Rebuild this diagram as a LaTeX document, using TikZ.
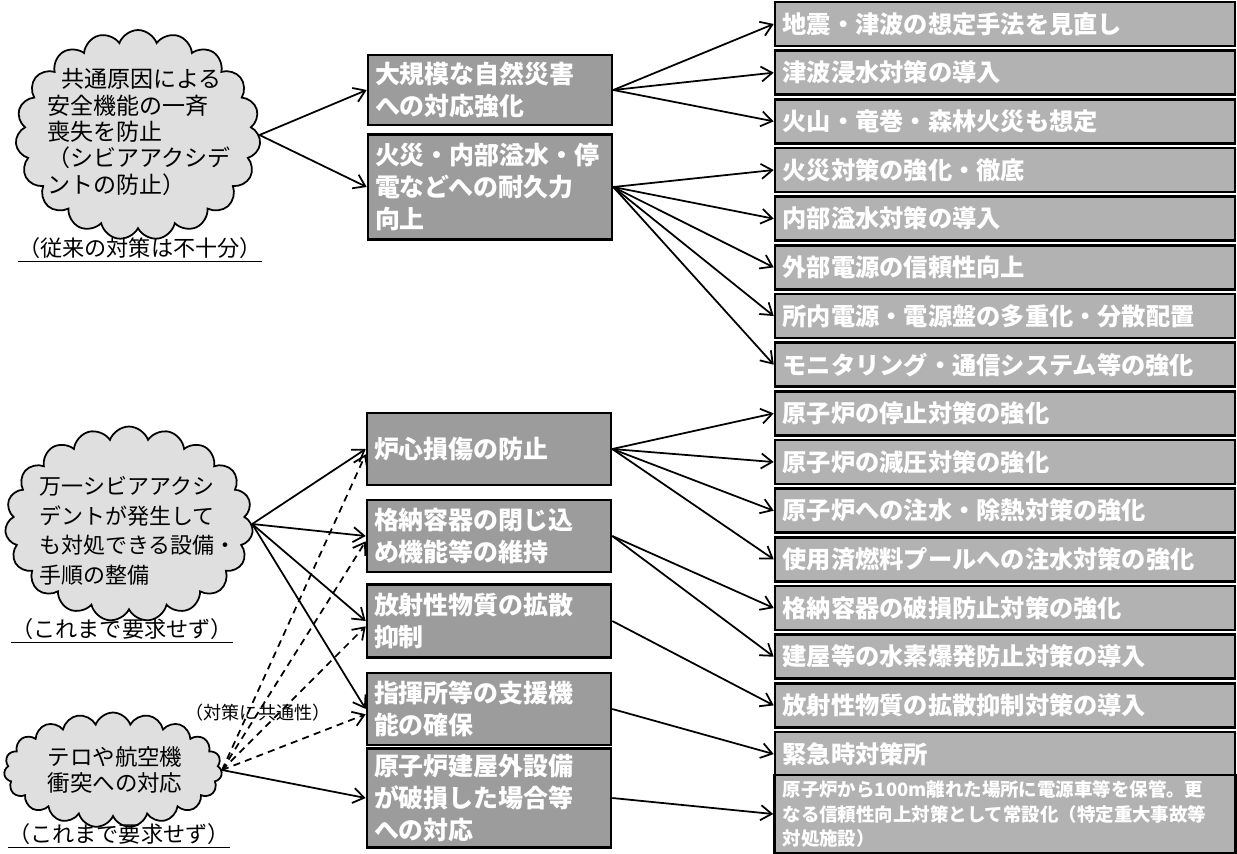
\documentclass[tikz,border=0pt]{standalone}
\usepackage{fontspec}
\setmainfont{Noto Sans CJK JP}
\usetikzlibrary{arrows.meta, shapes.symbols}

\begin{document}
\begin{tikzpicture}[
    x=0.02cm, y=-0.02cm,
    every node/.style={font=\fontsize{14}{18}\selectfont},
    cloudbox/.style={cloud, cloud puffs=19, cloud puff arc=140, cloud ignores aspect, draw, line width=1pt, fill=gray!25, inner sep=0pt},
    cloudtext/.style={align=left, inner sep=0pt},
    midbox/.style={rectangle, draw, line width=1.5pt, fill=gray!78, text=white, font=\bfseries\fontsize{14.2}{18.2}\selectfont, minimum width=4.88cm, text width=4.6cm, inner xsep=0.14cm, align=left},
    rightbox/.style={rectangle, draw, line width=1.5pt, fill=gray!60, text=white, font=\bfseries\fontsize{13.8}{16}\selectfont, minimum width=9.2cm, minimum height=0.88cm, text width=8.9cm, inner xsep=0.15cm, align=left},
    note/.style={font=\fontsize{12.6}{15}\selectfont},
    arrow/.style={-{Straight Barb[length=2.2mm, width=3mm]}, line width=1pt},
    dasharrow/.style={arrow, dash pattern=on 4pt off 3pt}
]
\useasboundingbox (0,0) rectangle (1237,853);

% ============ LEFT: clouds ============
\node[cloudbox, minimum width=4.9cm, minimum height=4.2cm] (cause) at (138,135) {};
\node[cloudtext, font=\fontsize{13.1}{15}\selectfont] (causetxt) at (139,132) {\hspace*{0.6em}共通原因による\\安全機能の一斉\\喪失を防止\\（シビアアクシデ\\ントの防止）};
\node[note] (causenote) at (140,250) {\underline{（従来の対策は不十分）}};

\node[cloudbox, minimum width=4.96cm, minimum height=3.9cm] (severe) at (129,524) {};
\node[cloudtext, font=\fontsize{12.5}{16.8}\selectfont] (severetxt) at (138,531) {万一シビアアクシ\\デントが発生して\\も対処できる設備・\\手順の整備};
\node[note] (severenote) at (122,631) {\underline{（これまで要求せず）}};

\node[cloudbox, minimum width=4.36cm, minimum height=2.3cm] (terror) at (113,770) {};
\node[cloudtext, font=\fontsize{12.8}{14.8}\selectfont] (terrortxt) at (115,770) {テロや航空機\\衝突への対応};
\node[note] (terrornote) at (119,836) {\underline{（これまで要求せず）}};

\node[font=\fontsize{10.3}{12}\selectfont] (common) at (258,713) {（対策に共通性）};

% ============ MIDDLE: measures ============
\node[midbox, minimum height=1.4cm] (nat) at (490,90) {大規模な自然災害\\への対応強化};
\node[midbox, minimum height=2.1cm] (fire) at (490,187) {火災・内部溢水・停\\電などへの耐久力\\向上};
\node[midbox, minimum height=1.44cm] (core) at (489,449) {炉心損傷の防止};
\node[midbox, minimum height=1.44cm] (cont) at (489,536) {格納容器の閉じ込\\め機能等の維持};
\node[midbox, minimum height=1.46cm] (disp) at (489,621) {放射性物質の拡散\\抑制};
\node[midbox, minimum height=1.44cm] (cmd) at (489,709) {指揮所等の支援機\\能の確保};
\node[midbox, minimum height=1.8cm] (ext) at (489,798) {原子炉建屋外設備\\が破損した場合等\\への対応};

% ============ RIGHT: concrete measures ============
\foreach \t [count=\i] in {地震・津波の想定手法を見直し, 津波浸水対策の導入, 火山・竜巻・森林火災も想定,
    火災対策の強化・徹底, 内部溢水対策の導入, 外部電源の信頼性向上, 所内電源・電源盤の多重化・分散配置,
    モニタリング・通信システム等の強化, 原子炉の停止対策の強化, 原子炉の減圧対策の強化,
    原子炉への注水・除熱対策の強化, 使用済燃料プールへの注水対策の強化, 格納容器の破損防止対策の強化,
    建屋等の水素爆発防止対策の導入, 放射性物質の拡散抑制対策の導入, 緊急時対策所} {
    \pgfmathsetmacro{\ypos}{24 + (\i-1)*48.67}
    \node[rightbox] (r\i) at (1005,\ypos) {\t};
}
\node[rightbox, minimum height=1.44cm, inner xsep=0.16cm, font=\bfseries\fontsize{10.5}{13.7}\selectfont] (r17) at (1005,814)
    {原子炉から100m離れた場所に電源車等を保管。更\\なる信頼性向上対策として常設化（特定重大事故等\\対処施設）};

% ============ ARROWS ============
\draw[arrow] (cause.east) -- (nat.west);
\draw[arrow] (cause.east) -- (fire.west);
\foreach \b in {core,cont,disp,cmd}
    \draw[arrow] (severe.east) -- (\b.west);
\foreach \b in {core,cont,disp,cmd}
    \draw[dasharrow] (terror.east) -- ([yshift=-3pt]\b.west);
\draw[arrow] (terror.east) -- (ext.west);

\foreach \j in {1,2,3}
    \draw[arrow] (nat.east) -- (r\j.west);
\foreach \j in {4,...,8}
    \draw[arrow] (fire.east) -- (r\j.west);
\foreach \j in {9,...,12}
    \draw[arrow] (core.east) -- (r\j.west);
\draw[arrow] (cont.east) -- (r13.west);
\draw[arrow] (cont.east) -- (r14.west);
\draw[arrow] (disp.east) -- (r15.west);
\draw[arrow] (cmd.east) -- (r16.west);
\draw[arrow] (ext.east) -- (r17.west);

\end{tikzpicture}
\end{document}
